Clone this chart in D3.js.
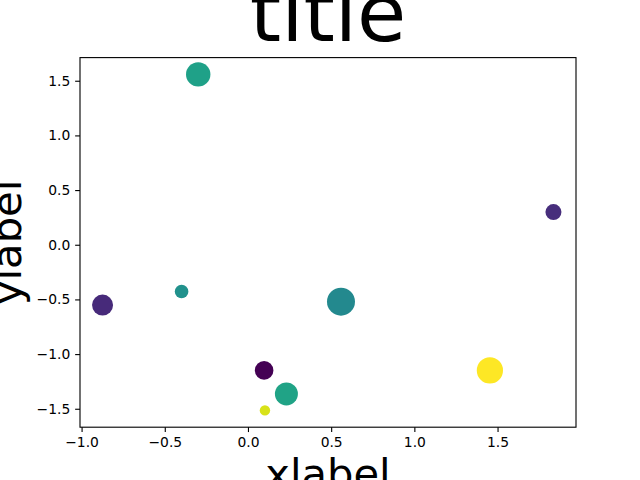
<!DOCTYPE html>
<html>
<head>
<meta charset="utf-8">
<script src="https://cdn.jsdelivr.net/npm/d3@7"></script>
<style>
  body { margin: 0; background: #fff; }
  svg { display: block; font-family: "DejaVu Sans", sans-serif; }
</style>
</head>
<body>
<svg id="chart" width="640" height="480"></svg>
<script>
// scatter points
const xs     = [-0.299, -0.874, -0.399, 0.097, 0.231, 0.102, 0.559, 1.454, 1.836];
const ys     = [1.558, -0.552, -0.428, -1.149, -1.364, -1.515, -0.521, -1.149, 0.299];
const colors = [0.57, 0.12, 0.50, 0.00, 0.58, 0.94, 0.47, 1.00, 0.13];
const sizes  = [309, 229, 96, 179, 274, 56, 406, 356, 133]; // marker area, pt^2

const xTicks = [-1.0, -0.5, 0.0, 0.5, 1.0, 1.5];
const yTicks = [-1.5, -1.0, -0.5, 0.0, 0.5, 1.0, 1.5];

const W = 640, H = 480;
const margin = {left: 80, right: 64, top: 57.6, bottom: 52.8};
const iw = W - margin.left - margin.right;
const ih = H - margin.top - margin.bottom;
const pt = 100 / 72;

function padded(vals) {
  const [lo, hi] = d3.extent(vals);
  const m = (hi - lo) * 0.05;
  return [lo - m, hi + m];
}

const x = d3.scaleLinear().domain(padded(xs)).range([0, iw]);
const y = d3.scaleLinear().domain(padded(ys)).range([ih, 0]);
const color = d3.scaleSequential(d3.interpolateViridis).domain(d3.extent(colors));
const radius = d3.scaleSqrt()
  .domain([0, d3.max(sizes)])
  .range([0, Math.sqrt(d3.max(sizes)) / 2 * pt]);

const svg = d3.select("#chart");
const g = svg.append("g").attr("transform", `translate(${margin.left},${margin.top})`);

const points = xs.map((v, i) => ({x: v, y: ys[i], c: colors[i], s: sizes[i]}));

g.selectAll("circle")
  .data(points)
  .join("circle")
  .attr("cx", d => x(d.x))
  .attr("cy", d => y(d.y))
  .attr("r", d => radius(d.s))
  .attr("fill", d => color(d.c));

const fmt = d3.format(".1f");
const tickLen = 3.5 * pt;

const xAxis = g.append("g")
  .attr("transform", `translate(0,${ih})`)
  .call(d3.axisBottom(x).tickValues(xTicks).tickFormat(fmt)
    .tickSize(tickLen).tickPadding(tickLen));

const yAxis = g.append("g")
  .call(d3.axisLeft(y).tickValues(yTicks).tickFormat(fmt)
    .tickSize(tickLen).tickPadding(tickLen));

[xAxis, yAxis].forEach(a => {
  a.select(".domain").remove();
  a.selectAll("line").attr("stroke", "#000").attr("stroke-width", 0.8 * pt);
  a.selectAll("text").attr("fill", "#000")
    .style("font-size", (10 * pt) + "px")
    .style("font-family", "DejaVu Sans");
});

// frame
g.append("rect")
  .attr("width", iw).attr("height", ih)
  .attr("fill", "none")
  .attr("stroke", "#000")
  .attr("stroke-width", 0.8 * pt);

svg.append("text")
  .attr("x", margin.left + iw / 2)
  .attr("y", 41)
  .attr("text-anchor", "middle")
  .style("font-size", "80px")
  .text("title");

svg.append("text")
  .attr("x", margin.left + iw / 2)
  .attr("y", 488)
  .attr("text-anchor", "middle")
  .style("font-size", (30 * pt) + "px")
  .text("xlabel");

svg.append("text")
  .attr("transform", `translate(21,${margin.top + ih / 2}) rotate(-90)`)
  .attr("text-anchor", "middle")
  .style("font-size", (30 * pt) + "px")
  .text("ylabel");
</script>
</body>
</html>
